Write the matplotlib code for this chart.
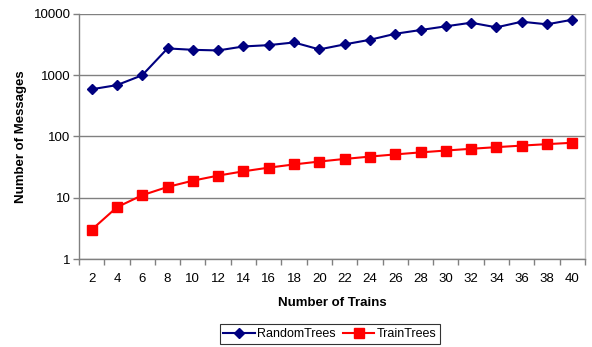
import numpy as np
import matplotlib.pyplot as plt
from matplotlib.ticker import FixedLocator, NullLocator, FixedFormatter

plt.rcParams['font.family'] = ['Liberation Sans', 'DejaVu Sans']

trains = [2, 4, 6, 8, 10, 12, 14, 16, 18, 20, 22, 24, 26, 28, 30, 32, 34, 36, 38, 40]
random_trees = [590, 690, 1000, 2740, 2600, 2540, 2950, 3100, 3430, 2640,
                3190, 3790, 4750, 5470, 6290, 7200, 6050, 7480, 6780, 8060]
train_trees = [3, 7, 11, 15, 19, 23, 27, 31, 35, 39,
               43, 47, 51, 55, 59, 63, 67, 71, 75, 79]

AXIS_GREY = "#808080"

fig = plt.figure(figsize=(5.92, 3.47), dpi=100)
ax = fig.add_axes([0.1334, 0.2536, 0.8547, 0.7061])

x = np.arange(len(trains))
ax.plot(x, random_trees, color="#000080", marker="D", markersize=5.5,
        linewidth=1.5, label="RandomTrees", zorder=3)
ax.plot(x, train_trees, color="#FF0000", marker="s", markersize=6.5,
        linewidth=1.5, label="TrainTrees", zorder=3)

ax.set_yscale("log")
ax.set_ylim(1, 10000)
ax.set_xlim(-0.5, len(trains) - 0.5)

# decade gridlines
ax.yaxis.set_major_locator(FixedLocator([1, 10, 100, 1000, 10000]))
ax.yaxis.set_major_formatter(FixedFormatter(["1", "10", "100", "1000", "10000"]))
ax.yaxis.set_minor_locator(NullLocator())
ax.grid(axis="y", which="major", color=AXIS_GREY, linewidth=1.0, zorder=1)

# category labels centred, ticks on category boundaries
ax.set_xticks(x)
ax.set_xticklabels([str(t) for t in trains])
ax.set_xticks(np.arange(len(trains) + 1) - 0.5, minor=True)
ax.tick_params(axis="x", which="major", length=0, pad=10, labelsize=9.5)
ax.tick_params(axis="x", which="minor", length=4, width=1, color=AXIS_GREY, direction="out")
ax.tick_params(axis="y", which="major", length=4, width=1, color=AXIS_GREY,
               labelsize=9.5, pad=2)

for side in ["left", "bottom"]:
    ax.spines[side].set_color(AXIS_GREY)
    ax.spines[side].set_linewidth(1.0)
ax.spines["top"].set_visible(False)
ax.spines["right"].set_color("#C0C0C0")
ax.spines["right"].set_linewidth(1.0)

ax.set_xlabel("Number of Trains", fontsize=9.5, fontweight="bold", labelpad=9)
ax.set_ylabel("Number of Messages", fontsize=9.5, fontweight="bold", labelpad=5)

leg = fig.legend(loc="center", bbox_to_anchor=(330 / 592, 1 - 334 / 347),
                 ncol=2, fontsize=9, frameon=True, fancybox=False,
                 edgecolor="black", handlelength=2.5, columnspacing=0.6,
                 handletextpad=0.2, borderpad=0.3, borderaxespad=0)
leg.get_frame().set_linewidth(0.8)

fig.savefig("out.png", dpi=100)
